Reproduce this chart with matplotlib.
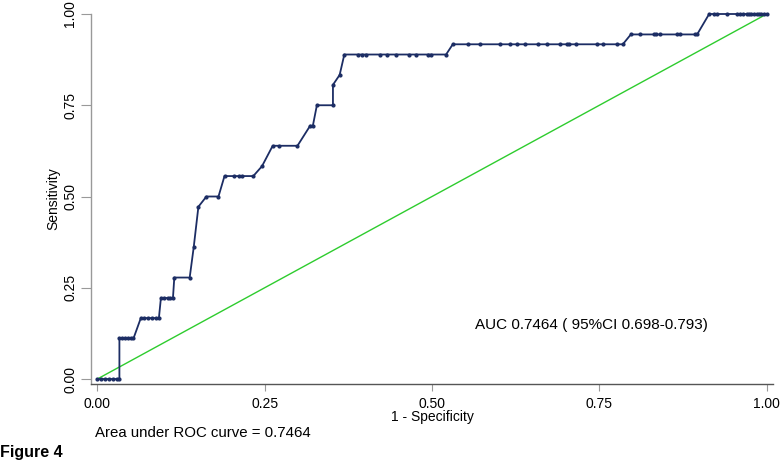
import matplotlib
matplotlib.use("Agg")
import matplotlib.pyplot as plt

plt.rcParams['font.family'] = ['Liberation Sans', 'DejaVu Sans']

# ROC points (1 - specificity, sensitivity)
fpr = [0.0, 0.006, 0.012, 0.018, 0.024, 0.030, 0.033,
       0.033, 0.037, 0.041, 0.046, 0.051, 0.054,
       0.065, 0.070, 0.076, 0.081, 0.088, 0.092,
       0.095, 0.100, 0.105, 0.109, 0.113,
       0.115, 0.138,
       0.144,
       0.151,
       0.163, 0.181,
       0.190, 0.204, 0.211, 0.216, 0.233,
       0.246,
       0.262, 0.272, 0.299,
       0.318, 0.322,
       0.328, 0.352,
       0.352,
       0.362,
       0.369, 0.390, 0.396, 0.402, 0.422, 0.432, 0.446, 0.465, 0.476, 0.494, 0.498, 0.521,
       0.531, 0.554, 0.571, 0.601, 0.617, 0.627, 0.639, 0.659, 0.672, 0.691, 0.701, 0.705,
       0.715, 0.747, 0.755, 0.777, 0.785,
       0.797, 0.810, 0.832, 0.835, 0.841, 0.866, 0.871, 0.893, 0.896,
       0.914, 0.921, 0.926, 0.941, 0.955, 0.960, 0.965, 0.970, 0.974, 0.977, 0.981,
       0.985, 0.989, 0.992, 0.996, 1.0]
tpr = [0.0] * 7 + \
      [0.111] * 6 + \
      [0.167] * 6 + \
      [0.222] * 5 + \
      [0.278] * 2 + \
      [0.361] + \
      [0.472] + \
      [0.500] * 2 + \
      [0.556] * 5 + \
      [0.583] + \
      [0.639] * 3 + \
      [0.694] * 2 + \
      [0.750] * 2 + \
      [0.806] + \
      [0.833] + \
      [0.889] * 12 + \
      [0.917] * 17 + \
      [0.944] * 9 + \
      [1.0] * 16

auc_text = "AUC 0.7464 ( 95%CI 0.698-0.793)"
area_text = "Area under ROC curve = 0.7464"
fig_label = "Figure 4"
ticks = [0.0, 0.25, 0.5, 0.75, 1.0]
tick_labels = ["0.00", "0.25", "0.50", "0.75", "1.00"]

fig = plt.figure(figsize=(7.84, 4.62), dpi=100)
ax = fig.add_axes([0.1161, 0.1699, 0.8699, 0.7998])

ax.plot([0, 1], [0, 1], color='#2ecc2e', lw=1.0, zorder=2)
ax.plot(fpr, tpr, color='#1c2d64', lw=1.3, marker='o', markersize=2.0,
        clip_on=False, zorder=3)

ax.set_xlim(-0.0094, 1.0094)
ax.set_ylim(-0.0123, 1.0)

for s in ['top', 'right']:
    ax.spines[s].set_visible(False)
ax.spines['left'].set_color('#999999')
ax.spines['bottom'].set_color('#555555')
ax.spines['left'].set_linewidth(1.0)
ax.spines['bottom'].set_linewidth(1.0)

ax.set_xticks(ticks)
ax.set_xticklabels(tick_labels)
ax.set_yticks(ticks)
ax.set_yticklabels(tick_labels)
ax.tick_params(axis='both', colors='#999999', labelcolor='black', labelsize=10)
ax.tick_params(axis='x', length=5, pad=5)
ax.tick_params(axis='y', length=7, pad=3, labelrotation=90)
for lab in ax.get_yticklabels():
    lab.set_va('center')

ax.set_xlabel("1 - Specificity", fontsize=10, labelpad=-1)
ax.set_ylabel("Sensitivity", fontsize=10, labelpad=2)

ax.text(0.738, 0.148, auc_text, fontsize=11, ha='center', va='center')

fig.text(95 / 784, 1 - 433 / 462, area_text, fontsize=10.8, ha='left', va='center')
fig.text(0.0, 1 - 452 / 462, fig_label, fontsize=11.5, fontweight='bold',
         ha='left', va='center')

fig.savefig("out.png", dpi=100)
